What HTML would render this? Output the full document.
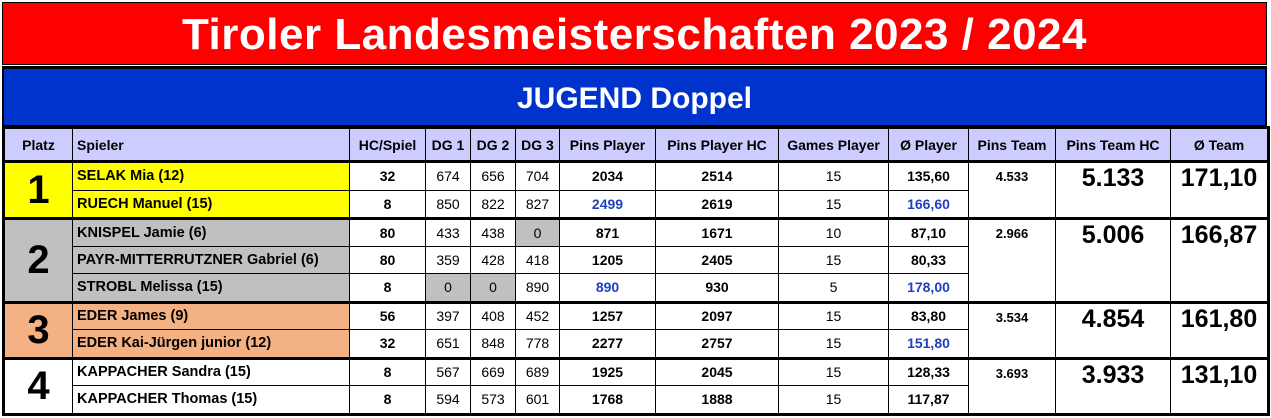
<!DOCTYPE html>
<html><head><meta charset="utf-8"><style>
html,body{margin:0;padding:0;background:#fff;width:1271px;height:418px;overflow:hidden;font-family:"Liberation Sans",sans-serif}
.red{position:absolute;left:2px;top:2px;width:1265px;height:63px;background:#ff0000;color:#fff;font-weight:bold;font-size:44px;text-align:center;line-height:63px;border:1px solid #000;box-sizing:border-box;letter-spacing:0.5px}
.blue{position:absolute;left:2px;top:66px;width:1265px;height:61px;background:#0033cc;color:#fff;font-weight:bold;font-size:30px;text-align:center;line-height:60px;border:2px solid #000;border-top:3px solid #000;box-sizing:border-box}
table{position:absolute;left:2px;top:126px;border-collapse:collapse;table-layout:fixed;border:3px solid #000}
td{border:1px solid #000;padding:0;height:26.5px;font-size:14px;text-align:center;white-space:nowrap;overflow:hidden}
tr.h td{height:31px;background:#ccccff;font-weight:bold;font-size:14px;border-bottom:3px solid #000}
tr.g td{border-top:3px solid #000;height:25.5px}
td.n{text-align:left;padding-left:4px;font-weight:bold;font-size:14.5px}
td.b{font-weight:bold}
td.r{font-size:40px;font-weight:bold}
td.t{vertical-align:top;font-weight:bold;font-size:13px;padding-top:6px}
td.T{vertical-align:top;font-weight:bold;font-size:25px;padding-top:1px}
.bl{color:#2040c0}
.y{background:#ffff00}.gr{background:#c0c0c0}.o{background:#f4b183}
</style></head><body>
<div class="red">Tiroler Landesmeisterschaften 2023 / 2024</div>
<div class="blue">JUGEND Doppel</div>
<table>
<colgroup><col style="width:69px"><col style="width:277px"><col style="width:76px"><col style="width:45px"><col style="width:45px"><col style="width:44px"><col style="width:96px"><col style="width:123px"><col style="width:110px"><col style="width:80px"><col style="width:87px"><col style="width:115px"><col style="width:98px"></colgroup>
<tr class="h"><td>Platz</td><td style="text-align:left;padding-left:4px">Spieler</td><td>HC/Spiel</td><td>DG 1</td><td>DG 2</td><td>DG 3</td><td>Pins Player</td><td>Pins Player HC</td><td>Games Player</td><td>Ø Player</td><td>Pins Team</td><td>Pins Team HC</td><td>Ø Team</td></tr>
<tr><td class="r y" rowspan="2">1</td><td class="n y">SELAK Mia (12)</td><td class="b">32</td><td>674</td><td>656</td><td>704</td><td class="b">2034</td><td class="b">2514</td><td>15</td><td class="b">135,60</td><td class="t" rowspan="2">4.533</td><td class="T" rowspan="2">5.133</td><td class="T" rowspan="2">171,10</td></tr>
<tr><td class="n y">RUECH Manuel (15)</td><td class="b">8</td><td>850</td><td>822</td><td>827</td><td class="b bl">2499</td><td class="b">2619</td><td>15</td><td class="b bl">166,60</td></tr>
<tr class="g"><td class="r gr" rowspan="3">2</td><td class="n gr">KNISPEL Jamie (6)</td><td class="b">80</td><td>433</td><td>438</td><td class="gr">0</td><td class="b">871</td><td class="b">1671</td><td>10</td><td class="b">87,10</td><td class="t" rowspan="3">2.966</td><td class="T" rowspan="3">5.006</td><td class="T" rowspan="3">166,87</td></tr>
<tr><td class="n gr">PAYR-MITTERRUTZNER Gabriel (6)</td><td class="b">80</td><td>359</td><td>428</td><td>418</td><td class="b">1205</td><td class="b">2405</td><td>15</td><td class="b">80,33</td></tr>
<tr><td class="n gr">STROBL Melissa (15)</td><td class="b">8</td><td class="gr">0</td><td class="gr">0</td><td>890</td><td class="b bl">890</td><td class="b">930</td><td>5</td><td class="b bl">178,00</td></tr>
<tr class="g"><td class="r o" rowspan="2">3</td><td class="n o">EDER James (9)</td><td class="b">56</td><td>397</td><td>408</td><td>452</td><td class="b">1257</td><td class="b">2097</td><td>15</td><td class="b">83,80</td><td class="t" rowspan="2">3.534</td><td class="T" rowspan="2">4.854</td><td class="T" rowspan="2">161,80</td></tr>
<tr><td class="n o">EDER Kai-Jürgen junior (12)</td><td class="b">32</td><td>651</td><td>848</td><td>778</td><td class="b">2277</td><td class="b">2757</td><td>15</td><td class="b bl">151,80</td></tr>
<tr class="g"><td class="r" rowspan="2">4</td><td class="n">KAPPACHER Sandra (15)</td><td class="b">8</td><td>567</td><td>669</td><td>689</td><td class="b">1925</td><td class="b">2045</td><td>15</td><td class="b">128,33</td><td class="t" rowspan="2">3.693</td><td class="T" rowspan="2">3.933</td><td class="T" rowspan="2">131,10</td></tr>
<tr><td class="n">KAPPACHER Thomas (15)</td><td class="b">8</td><td>594</td><td>573</td><td>601</td><td class="b">1768</td><td class="b">1888</td><td>15</td><td class="b">117,87</td></tr>
</table>
</body></html>
